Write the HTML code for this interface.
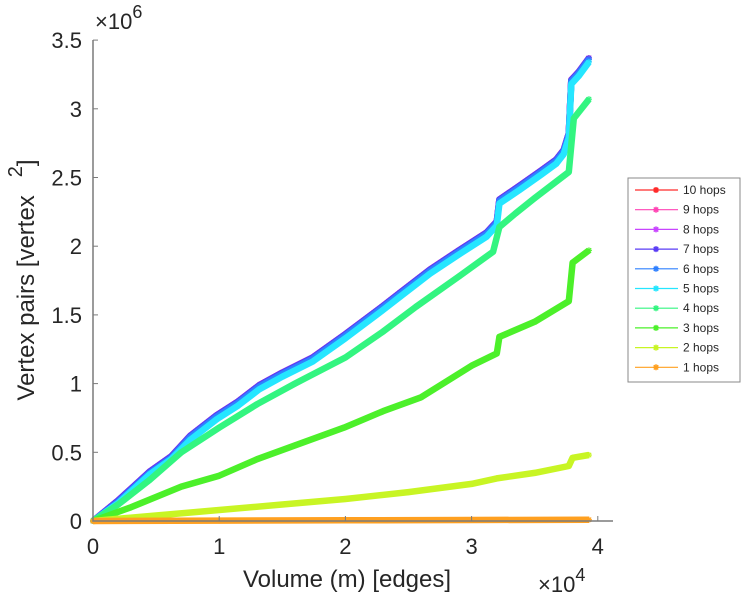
<!DOCTYPE html>
<html><head><meta charset="utf-8"><style>
body{margin:0;background:#fff;}
svg{display:block;font-family:"Liberation Sans",sans-serif;}
</style></head><body>
<svg id="chart" width="749" height="600" viewBox="0 0 749 600">
<g id="plot"></g>
<g id="axes"></g>
<g id="legend"></g>
</svg>
<script>
// data (x in 1e4 edges, y in 1e6 vertex pairs)
const seriesNames = ["10 hops","9 hops","8 hops","7 hops","6 hops","5 hops","4 hops","3 hops","2 hops","1 hops"];
const seriesColors = ["#ff2a2a","#ff45b4","#c845ff","#5a3cf5","#2f80ff","#25e6ff","#33f580","#4cf02a","#c8f524","#ffa020"];
const xTop = [0,0.2,0.45,0.62,0.77,0.98,1.15,1.32,1.5,1.74,2.0,2.29,2.43,2.67,2.9,3.12,3.2,3.22,3.38,3.55,3.67,3.73,3.77,3.79,3.85,3.93];
const y10 = [0,0.15,0.36,0.47,0.62,0.77,0.87,0.99,1.08,1.19,1.36,1.56,1.66,1.83,1.97,2.10,2.18,2.34,2.44,2.55,2.63,2.70,2.82,3.21,3.27,3.37];
const y9  = y10;
const y8  = y10;
const y7  = [0,0.15,0.36,0.47,0.62,0.77,0.87,0.99,1.08,1.19,1.36,1.56,1.66,1.83,1.97,2.10,2.18,2.34,2.44,2.55,2.63,2.70,2.82,3.21,3.27,3.37];
const y6  = [0,0.14,0.35,0.46,0.61,0.76,0.86,0.98,1.07,1.18,1.35,1.55,1.65,1.82,1.96,2.09,2.17,2.33,2.43,2.54,2.62,2.69,2.81,3.20,3.26,3.36];
const y5  = [0,0.13,0.34,0.45,0.59,0.74,0.84,0.96,1.05,1.16,1.33,1.53,1.63,1.80,1.94,2.07,2.15,2.31,2.41,2.52,2.60,2.67,2.79,3.18,3.24,3.34];
const x4  = [0,0.2,0.45,0.7,1.0,1.3,1.6,2.0,2.3,2.56,2.9,3.17,3.22,3.35,3.5,3.77,3.81,3.93];
const y4  = [0,0.12,0.3,0.5,0.68,0.85,1.0,1.19,1.38,1.56,1.78,1.96,2.14,2.24,2.35,2.54,2.93,3.07];
const x3  = [0,0.3,0.7,1.0,1.3,1.6,1.99,2.3,2.6,3.0,3.2,3.22,3.5,3.77,3.80,3.93];
const y3  = [0,0.1,0.25,0.33,0.45,0.55,0.68,0.80,0.90,1.13,1.22,1.34,1.45,1.60,1.88,1.97];
const x2  = [0,0.5,1.0,1.5,2.0,2.5,3.0,3.2,3.5,3.77,3.80,3.93];
const y2  = [0,0.04,0.08,0.12,0.16,0.21,0.27,0.31,0.35,0.40,0.46,0.48];
const x1  = [0,1,2,3,3.93];
const y1  = [0,0.003,0.005,0.007,0.009];
const xTicks = [0,1,2,3,4];
const yTicks = [0,0.5,1,1.5,2,2.5,3,3.5];
const yTickLabels = ["0","0.5","1","1.5","2","2.5","3","3.5"];

const seriesX = [xTop,xTop,xTop,xTop,xTop,xTop,x4,x3,x2,x1];
const seriesY = [y10,y9,y8,y7,y6,y5,y4,y3,y2,y1];

const X0=93, XPER=126.2, Y0=521, YPER=137.4;
const sx = v => X0 + v*XPER;
const sy = v => Y0 - v*YPER;
const NS="http://www.w3.org/2000/svg";
function mk(tag, attrs, parent){const e=document.createElementNS(NS,tag);for(const k in attrs)e.setAttribute(k,attrs[k]);parent.appendChild(e);return e;}
function star(parent,cx,cy,color){
  return mk('path',{d:`M${cx-3},${cy}H${cx+3}M${cx},${cy-3}V${cy+3}M${cx-2.2},${cy-2.2}L${cx+2.2},${cy+2.2}M${cx-2.2},${cy+2.2}L${cx+2.2},${cy-2.2}`,stroke:color,'stroke-width':1.2,fill:'none'},parent);
}
const plot=document.getElementById('plot');
for(let i=0;i<seriesNames.length;i++){
  const g=mk('g',{},plot);
  
  
  const xs=seriesX[i], ys=seriesY[i];
  const pts=xs.map((x,j)=>sx(x).toFixed(1)+','+sy(ys[j]).toFixed(1)).join(' ');
  const l=mk('polyline',{points:pts,fill:'none',stroke:seriesColors[i],'stroke-width':6.5,'stroke-linejoin':'round'},g);
  
  
  xs.forEach((x,j)=>{const m=star(g,sx(x),sy(ys[j]),seriesColors[i]);
    
    });
}
const axes=document.getElementById('axes');
const ax=mk('path',{d:`M93,40V521H613`,stroke:'#7a7a7a','stroke-width':1.5,fill:'none'},axes);


xTicks.forEach(t=>{
  mk('line',{x1:sx(t),x2:sx(t),y1:521,y2:516,stroke:'#7a7a7a'},axes);
  const tx=mk('text',{x:sx(t),y:554,'text-anchor':'middle','font-size':22,fill:'#262626'},axes);
  tx.textContent=t;
  
  
});
yTicks.forEach((t,i)=>{
  mk('line',{x1:93,x2:98,y1:sy(t),y2:sy(t),stroke:'#7a7a7a'},axes);
  const tx=mk('text',{x:82,y:sy(t)+8,'text-anchor':'end','font-size':22,fill:'#262626'},axes);
  tx.textContent=yTickLabels[i];
  
  
});
</script>
<script>
const svg=document.getElementById('chart');
const NS2="http://www.w3.org/2000/svg";
svg.insertAdjacentHTML('beforeend',`
<text x="95" y="29" font-size="22" fill="#262626">×10<tspan dy="-11" font-size="18">6</tspan></text>
<text x="538" y="592" font-size="22" fill="#262626">×10<tspan dy="-11" font-size="18">4</tspan></text>
<text x="347" y="587" font-size="24" text-anchor="middle" fill="#262626">Volume (m) [edges]</text>
<text transform="translate(34,280) rotate(-90)" font-size="24" text-anchor="middle" fill="#262626">Vertex pairs [vertex<tspan dx="18" dy="-12" font-size="20">2</tspan><tspan dy="12">]</tspan></text>
<rect x="628" y="178" width="112" height="204" fill="#fff" stroke="#8a8a8a"/>
`);
const leg=document.getElementById('legend');
svg.appendChild(leg);
seriesNames.forEach((n,i)=>{
  const y=190+i*19.7;
  const g=document.createElementNS(NS2,'g');
  
  
  g.innerHTML=`<line x1="635" x2="678" y1="${y}" y2="${y}" stroke="${seriesColors[i]}" stroke-width="1.2"/>
  <path d="M653,${y}H659M656,${y-3}V${y+3}M653.8,${y-2.2}L658.2,${y+2.2}M653.8,${y+2.2}L658.2,${y-2.2}" stroke="${seriesColors[i]}" stroke-width="1.5"/>
  <text x="683" y="${y+4}" font-size="12" fill="#262626">${n}</text>`;
  leg.appendChild(g);
});
</script>
</body></html>
